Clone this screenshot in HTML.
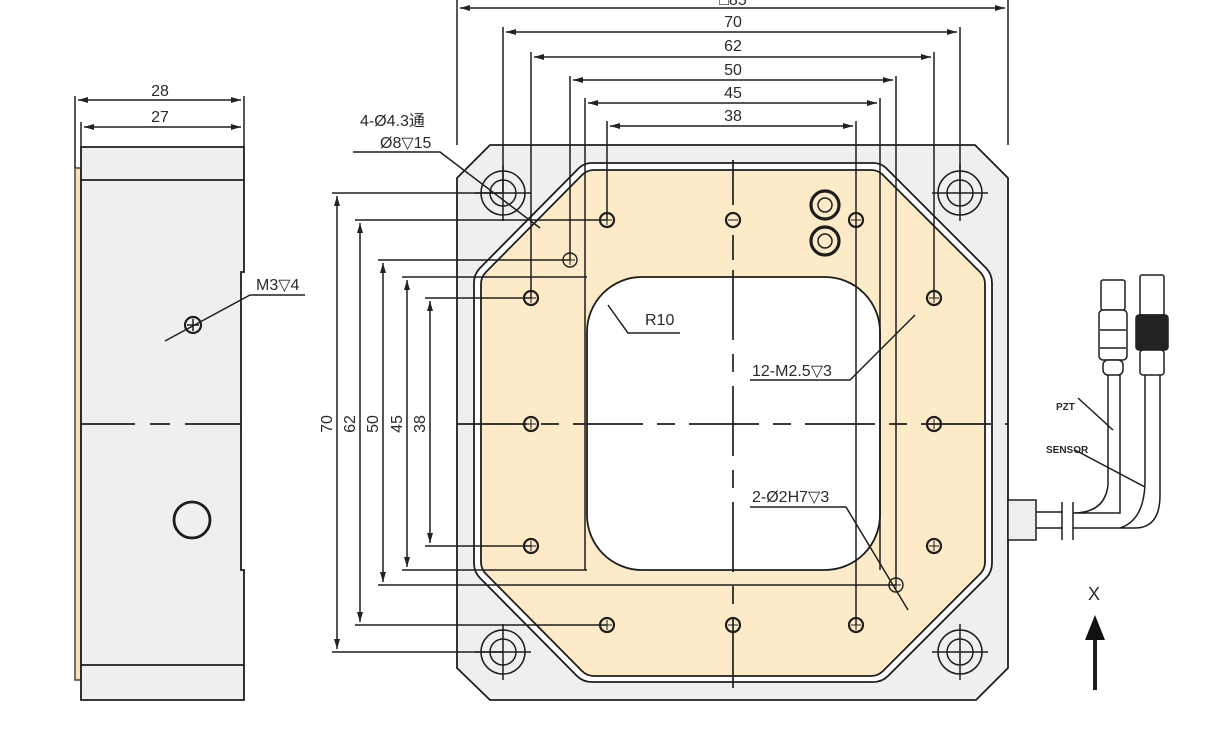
<!DOCTYPE html>
<html><head><meta charset="utf-8"><style>
html,body{margin:0;padding:0;background:#fff}
svg{display:block}
text{font-family:"Liberation Sans",sans-serif;fill:#2a2a2a}
</style></head><body>
<svg width="1224" height="750" viewBox="0 0 1224 750" xmlns="http://www.w3.org/2000/svg">
<defs>
<marker id="a" viewBox="0 0 10 6" refX="10" refY="3" markerWidth="7" markerHeight="4" orient="auto-start-reverse"><path d="M0,0L10,3L0,6z" fill="#222"/></marker>
</defs>
<g stroke="#1e1e1e" fill="none" stroke-width="1.5">
<!-- LEFT VIEW -->
<rect x="75" y="168" width="6" height="512" fill="#f6e3b8" stroke="#444"/>
<path d="M81,147 H244 V272 H241 V570 H244 V700 H81 Z" fill="#efefef" stroke-width="1.8"/>
<line x1="81" y1="180" x2="244" y2="180" stroke-width="1.8"/>
<line x1="81" y1="665" x2="244" y2="665" stroke-width="1.8"/>
<line x1="75" y1="96" x2="75" y2="168"/>
<line x1="244" y1="96" x2="244" y2="147"/>
<line x1="81" y1="122" x2="81" y2="147"/>
<line x1="78" y1="100" x2="241" y2="100" marker-start="url(#a)" marker-end="url(#a)"/>
<line x1="84" y1="127" x2="241" y2="127" marker-start="url(#a)" marker-end="url(#a)"/>
<path d="M81,424 H135 M150,424 H170 M185,424 H241" stroke-width="1.7"/>
<circle cx="193" cy="325" r="8" stroke-width="2.2"/>
<path d="M187,325 H199 M193,319 V331"/>
<path d="M165,341 L250,295 H305"/>
<circle cx="192" cy="520" r="18" stroke-width="2.8"/>

<!-- MAIN PLATE -->
<path d="M490,145 H975 L1008,178 V668 L976,700 H490 L457,668 V178 Z" fill="#efefef" stroke-width="1.8"/>
<path d="M592,163 H873 Q882,163 888,170 L986,268 Q992,274 992,283 V563 Q992,572 986,578 L888,676 Q882,682 873,682 H592 Q583,682 577,676 L480,578 Q474,572 474,563 V283 Q474,274 480,268 L577,170 Q583,163 592,163 Z" fill="#fff" stroke-width="1.8"/>
<path d="M594,170 H871 Q878,170 883,175 L980,272 Q985,277 985,284 V562 Q985,569 980,574 L883,671 Q878,676 871,676 H594 Q587,676 582,671 L486,574 Q481,569 481,562 V284 Q481,277 486,272 L582,175 Q587,170 594,170 Z" fill="#fdebc8" stroke-width="1.8"/>
<rect x="587" y="277" width="293" height="293" rx="55" fill="#fff" stroke-width="1.8"/>
<!-- center lines -->
<path d="M733,160 V205 M733,235 V260 M733,270 V700" stroke-width="1.7" stroke-dasharray="70,14,18,14"/>
<path d="M457,424 H1008" stroke-width="1.7" stroke-dasharray="70,14,18,14"/>
<!-- corner holes -->
<g>
<circle cx="503" cy="193" r="22"/><circle cx="503" cy="193" r="13"/><path d="M475,193 H531 M503,165 V221"/>
<circle cx="960" cy="193" r="22"/><circle cx="960" cy="193" r="13"/><path d="M932,193 H988 M960,165 V221"/>
<circle cx="503" cy="652" r="22"/><circle cx="503" cy="652" r="13"/><path d="M475,652 H531 M503,624 V680"/>
<circle cx="960" cy="652" r="22"/><circle cx="960" cy="652" r="13"/><path d="M932,652 H988 M960,624 V680"/>
</g>
<!-- small holes -->
<g stroke-width="2.2">
<circle cx="607" cy="220" r="7"/><circle cx="733" cy="220" r="7"/><circle cx="856" cy="220" r="7"/>
<circle cx="531" cy="298" r="7"/><circle cx="934" cy="298" r="7"/>
<circle cx="531" cy="424" r="7"/><circle cx="934" cy="424" r="7"/>
<circle cx="531" cy="546" r="7"/><circle cx="934" cy="546" r="7"/>
<circle cx="607" cy="625" r="7"/><circle cx="733" cy="625" r="7"/><circle cx="856" cy="625" r="7"/>
<circle cx="570" cy="260" r="7" stroke-width="1.4"/><circle cx="896" cy="585" r="7" stroke-width="1.4"/>
</g>
<g stroke-width="1">
<path d="M602,220h10M607,215v10M728,220h10M851,220h10M526,298h10M929,298h10M526,424h10M929,424h10M526,546h10M929,546h10M602,625h10M728,625h10M851,625h10M565,260h10M570,255v10M891,585h10M896,580v10M934,541v10M531,541v10M856,620v10M607,620v10M531,293v10M934,293v10M531,419v10M934,419v10"/>
</g>
<circle cx="825" cy="205" r="14" stroke-width="3.2"/><circle cx="825" cy="205" r="7"/>
<circle cx="825" cy="241" r="14" stroke-width="3.2"/><circle cx="825" cy="241" r="7"/>

<!-- top dims -->
<path d="M457,0 V145 M1008,0 V145"/>
<line x1="460" y1="8" x2="1005" y2="8" marker-start="url(#a)" marker-end="url(#a)"/>
<path d="M503,27 V193 M960,27 V193"/>
<line x1="506" y1="32" x2="957" y2="32" marker-start="url(#a)" marker-end="url(#a)"/>
<path d="M531,52 V298 M934,52 V298"/>
<line x1="534" y1="57" x2="931" y2="57" marker-start="url(#a)" marker-end="url(#a)"/>
<path d="M570,76 V260 M896,76 V585"/>
<line x1="573" y1="80" x2="893" y2="80" marker-start="url(#a)" marker-end="url(#a)"/>
<path d="M585,98 V570 M880,98 V570"/>
<line x1="588" y1="103" x2="877" y2="103" marker-start="url(#a)" marker-end="url(#a)"/>
<path d="M607,121 V220 M856,121 V625"/>
<line x1="610" y1="126" x2="853" y2="126" marker-start="url(#a)" marker-end="url(#a)"/>
<!-- left dims -->
<path d="M332,193 H503 M332,652 H503"/>
<line x1="337" y1="196" x2="337" y2="649" marker-start="url(#a)" marker-end="url(#a)"/>
<path d="M355,220 H607 M355,625 H607"/>
<line x1="360" y1="223" x2="360" y2="622" marker-start="url(#a)" marker-end="url(#a)"/>
<path d="M378,260 H570 M378,585 H896"/>
<line x1="383" y1="263" x2="383" y2="582" marker-start="url(#a)" marker-end="url(#a)"/>
<path d="M402,277 H587 M402,570 H587"/>
<line x1="407" y1="280" x2="407" y2="567" marker-start="url(#a)" marker-end="url(#a)"/>
<path d="M425,298 H531 M425,546 H531"/>
<line x1="430" y1="301" x2="430" y2="543" marker-start="url(#a)" marker-end="url(#a)"/>
<!-- leaders -->
<path d="M353,152 H440 L540,228"/>
<path d="M608,305 L628,333 H680"/>
<path d="M750,380 H850 L915,315"/>
<path d="M750,507 H846 L908,610"/>

<!-- cable -->
<rect x="1008" y="500" width="28" height="40" fill="#efefef"/>
<path d="M1036,512 H1062 M1036,528 H1062"/>
<path d="M1062,502 V540 M1073,502 V540"/>
<path d="M1073,513 Q1105,513 1108,485 V375 M1073,513 H1120 V375"/>
<path d="M1073,528 H1135 Q1160,528 1160,495 V375 M1073,528 H1120 Q1145,520 1145,480 V375"/>
<rect x="1101" y="280" width="24" height="30" rx="2" fill="#fff"/>
<rect x="1099" y="310" width="28" height="50" rx="4" fill="#fff"/>
<path d="M1100,330 H1126 M1100,348 H1126"/>
<rect x="1103" y="360" width="20" height="15" rx="5" fill="#fff"/>
<rect x="1140" y="275" width="24" height="40" rx="2" fill="#fff"/>
<rect x="1136" y="315" width="32" height="35" rx="3" fill="#222"/>
<rect x="1140" y="350" width="24" height="25" rx="3" fill="#fff"/>
<path d="M1078,398 L1113,430 M1075,450 L1145,487"/>
<!-- X arrow -->
<line x1="1095" y1="690" x2="1095" y2="620" stroke-width="4"/>
</g>
<path d="M1085,640 L1095,615 L1105,640 Z" fill="#111"/>

<!-- texts -->
<g font-size="16" text-anchor="middle">
<text x="733" y="5">□85</text>
<text x="733" y="27">70</text>
<text x="733" y="51">62</text>
<text x="733" y="75">50</text>
<text x="733" y="98">45</text>
<text x="733" y="121">38</text>
<text x="160" y="96">28</text>
<text x="160" y="122">27</text>
<text transform="translate(332,424) rotate(-90)">70</text>
<text transform="translate(355,424) rotate(-90)">62</text>
<text transform="translate(378,424) rotate(-90)">50</text>
<text transform="translate(402,424) rotate(-90)">45</text>
<text transform="translate(425,424) rotate(-90)">38</text>
</g>
<g font-size="16">
<text x="256" y="290">M3▽4</text>
<text x="360" y="126">4-Ø4.3通</text>
<text x="380" y="148">Ø8▽15</text>
<text x="645" y="325">R10</text>
<text x="752" y="376">12-M2.5▽3</text>
<text x="752" y="502">2-Ø2H7▽3</text>
<text x="1088" y="600" font-size="18">X</text>
</g>
<g font-size="10" font-weight="bold">
<text x="1056" y="410">PZT</text>
<text x="1046" y="453">SENSOR</text>
</g>
</svg>
</body></html>
